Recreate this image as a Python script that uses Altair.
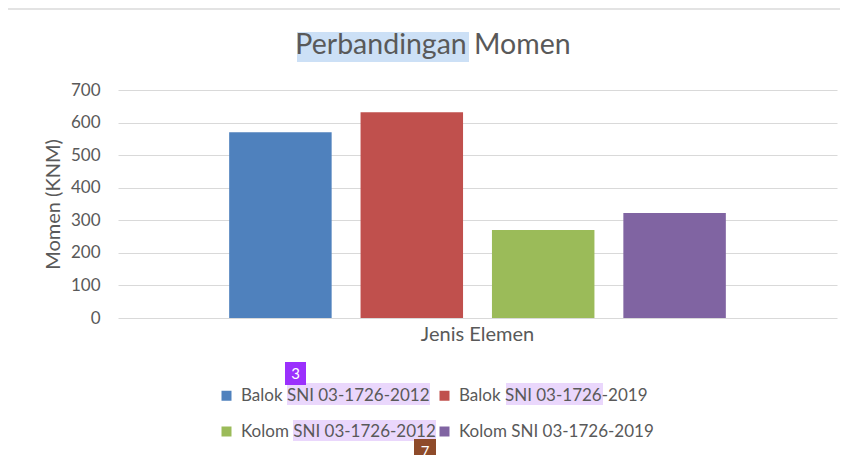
import altair as alt
import pandas as pd

# ---- data -------------------------------------------------------------
chart_title = "Perbandingan Momen"
category = "Jenis Elemen"
series = [
    "Balok SNI 03-1726-2012",
    "Balok SNI 03-1726-2019",
    "Kolom SNI 03-1726-2012",
    "Kolom SNI 03-1726-2019",
]
values = [570, 632, 270, 322]
colors = ["#4F81BD", "#C0504D", "#9BBB59", "#8064A2"]
y_ticks = [0, 100, 200, 300, 400, 500, 600, 700]

df = pd.DataFrame({"elemen": [category] * len(series), "series": series, "value": values})

FONT = "Lato"
TXT = "#595959"
GRID = "#D9D9D9"

one = pd.DataFrame({"k": [0]})


def box(x, x2, y, y2, fill):
    return alt.Chart(one).mark_rect(fill=fill).encode(
        x=alt.value(x), x2=alt.value(x2), y=alt.value(y), y2=alt.value(y2)
    )


def label(x, y, text, color, size=15, baseline="middle"):
    return alt.Chart(one).mark_text(
        text=text, font=FONT, fontSize=size, color=color, align="center", baseline=baseline
    ).encode(x=alt.value(x), y=alt.value(y))


# highlight / comment-marker decorations (screenshot artefacts)
HL_BLUE = "#CCE0F6"
HL_PURP = "#EAD7FC"
decor = [
    box(179, 351, -58, -28, HL_BLUE),
    box(169, 312, 293, 315, HL_PURP),
    box(388, 485, 293, 315, HL_PURP),
    box(175, 318, 330, 351, HL_PURP),
]
badges = [
    box(167, 188, 272, 295, "#9B30FD"),
    label(177.5, 284, "3", "white"),
    box(296, 318, 349, 372, "#8E4B2A"),
    label(307, 362, "7", "white"),
]

title = label(315, -36, chart_title, TXT, size=28.5, baseline="alphabetic")

bars = alt.Chart(df).mark_bar().encode(
    x=alt.X(
        "elemen:N",
        scale=alt.Scale(paddingInner=0, paddingOuter=0.184),
        axis=alt.Axis(
            title=None, labelAngle=0, labelFont=FONT, labelFontSize=20,
            labelColor=TXT, labelPadding=6, ticks=False, domain=False,
        ),
    ),
    xOffset=alt.XOffset(
        "series:N", sort=series, scale=alt.Scale(paddingInner=0.22, paddingOuter=0.11)
    ),
    y=alt.Y(
        "value:Q",
        scale=alt.Scale(domain=[0, 700]),
        axis=alt.Axis(
            values=y_ticks, title="Momen (KNM)", titleFont=FONT, titleFontSize=20,
            titleFontWeight="normal", titleColor=TXT, titlePadding=7,
            labelFont=FONT, labelFontSize=17, labelColor=TXT, labelPadding=18,
            ticks=False, domain=False, gridColor=GRID, gridWidth=1,
        ),
    ),
    color=alt.Color(
        "series:N",
        sort=series,
        scale=alt.Scale(domain=series, range=colors),
        legend=alt.Legend(
            title=None, orient="none", legendX=100, legendY=297, columns=2,
            direction="horizontal",
            symbolType="square", symbolSize=100, symbolStrokeWidth=0,
            labelFont=FONT, labelFontSize=17, labelColor=TXT, labelOffset=6,
            rowPadding=18, columnPadding=0, padding=0, labelLimit=400,
        ),
    ),
)

border = alt.Chart(one).mark_rule(color="#E3E3E3", strokeWidth=2).encode(
    x=alt.value(-110), x2=alt.value(740), y=alt.value(-81)
)

chart = alt.layer(border, *decor, title, bars, *badges).properties(
    width=719,
    height=228,
    autosize=alt.AutoSizeParams(type="none"),
    padding={"left": 110, "top": 82, "right": 3, "bottom": 137},
).configure_view(stroke=None)

chart.save("out.html", embed_options={"renderer": "svg", "actions": False})
